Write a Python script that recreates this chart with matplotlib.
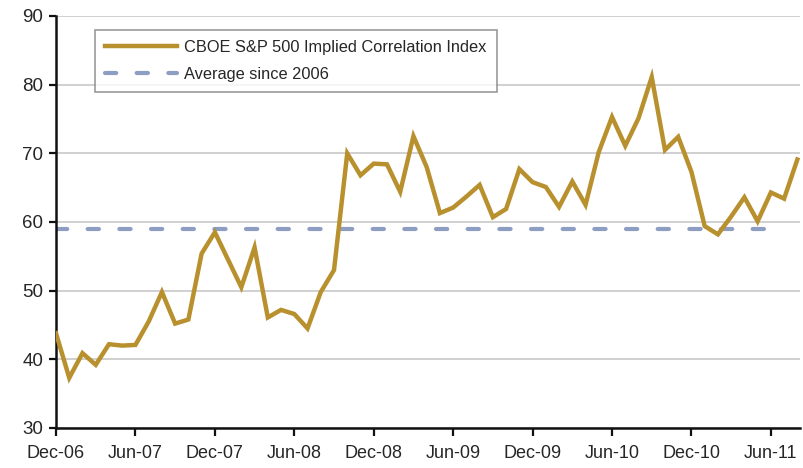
import matplotlib
matplotlib.use("Agg")
import matplotlib.pyplot as plt
import numpy as np

plt.rcParams['font.family'] = ['Liberation Sans', 'DejaVu Sans']

tick_labels = ["Dec-06", "Jun-07", "Dec-07", "Jun-08", "Dec-08", "Jun-09",
               "Dec-09", "Jun-10", "Dec-10", "Jun-11"]
correlation = [43.8, 37.3, 40.9, 39.2, 42.2, 42.0, 42.1, 45.5, 49.8, 45.2,
               45.8, 55.4, 58.5, 54.5, 50.5, 56.3, 46.1, 47.2, 46.6, 44.5,
               49.8, 53.0, 70.0, 66.8, 68.5, 68.4, 64.4, 72.5, 68.0, 61.3,
               62.1, 63.7, 65.4, 60.7, 61.9, 67.7, 65.8, 65.1, 62.2, 65.9,
               62.5, 70.2, 75.3, 71.1, 75.1, 81.1, 70.5, 72.4, 67.3, 59.4,
               58.2, 60.8, 63.6, 60.1, 64.3, 63.4, 69.1]
average_since_2006 = 59.0
series_names = ["CBOE S&P 500 Implied Correlation Index", "Average since 2006"]

months = np.arange(len(correlation))
avg = [average_since_2006] * len(correlation)

fig = plt.figure(figsize=(8.04, 4.68), dpi=100)
ax = fig.add_axes([56/804, 1 - 428/468, (800-56)/804, (428-16)/468])

ax.set_ylim(30, 90)
ax.set_xlim(0, len(correlation) - 1 + 0.2)
ax.set_yticks(range(30, 91, 10))
ax.yaxis.grid(True, color='#c8c8c8', linewidth=1.2)
ax.set_axisbelow(True)

ax.plot(months, correlation, color='#B8902E', linewidth=3.2,
        solid_joinstyle='miter', label=series_names[0], zorder=3)
ax.plot(months[:-1], avg[:-1], color='#8E9DC2', linewidth=3.0, dash_capstyle='round',
        dashes=(2.7, 4.9), label=series_names[1], zorder=2)

ax.set_xticks(months[::6])
ax.set_xticklabels(tick_labels)

for s in ['top', 'right']:
    ax.spines[s].set_visible(False)
for s in ['left', 'bottom']:
    ax.spines[s].set_color('#111111')
    ax.spines[s].set_linewidth(1.8)

ax.tick_params(axis='x', length=6, width=1.6, direction='out', colors='#111111',
               labelcolor='#262626', labelsize=13, pad=6)
ax.tick_params(axis='y', length=5, width=1.6, direction='out', colors='#111111',
               labelcolor='#262626', labelsize=13.5, pad=4)

leg = ax.legend(loc='upper left', bbox_to_anchor=((95-56)/744, (428-30)/412),
                frameon=True, fancybox=False, fontsize=11.8, handlelength=4.4,
                borderpad=0.6, labelspacing=0.75, handletextpad=0.45,
                borderaxespad=0)
leg.get_frame().set_edgecolor('#808080')
leg.get_frame().set_linewidth(1.2)
for t in leg.get_texts():
    t.set_color('#262626')

fig.savefig("out.png", dpi=100)
